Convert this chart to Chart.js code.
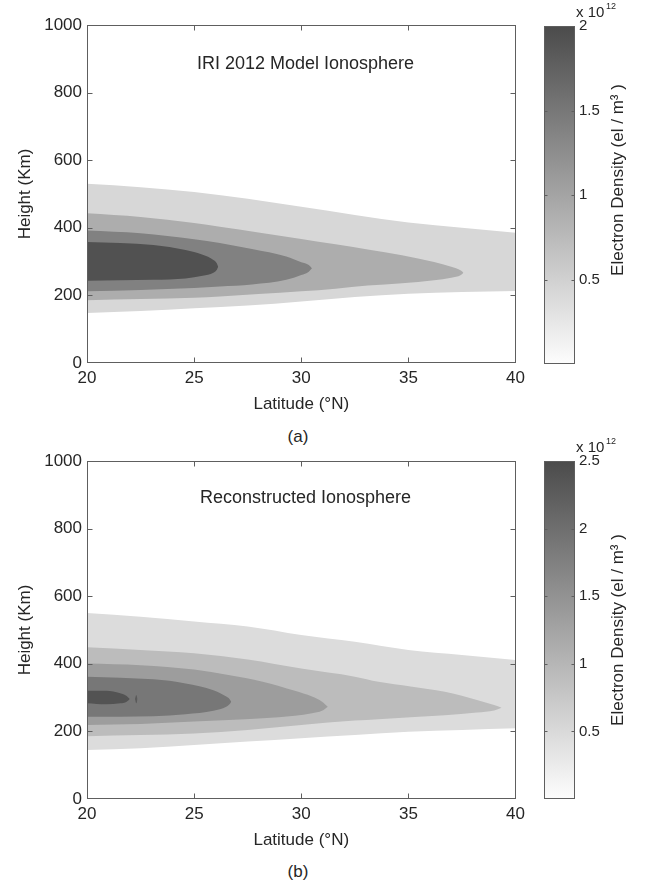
<!DOCTYPE html>
<html>
<head>
<meta charset="utf-8">
<title>Electron density: IRI 2012 and reconstructed ionosphere</title>
<script src="https://cdn.jsdelivr.net/npm/chart.js@4.4.1/dist/chart.umd.min.js"></script>
<style>
  body { margin: 0; background: #fff; font-family: "Liberation Sans", Arial, sans-serif; }
  #page { position: relative; width: 647px; height: 888px; overflow: hidden; }
  .slot { position: absolute; }
  .tag { position: absolute; width: 60px; text-align: center; font-size: 17px; color: #262626; }
</style>
</head>
<body>
<div id="page">
  <div class="slot" style="left:0;top:0"><canvas id="iriMap" width="530" height="420"></canvas></div>
  <div class="slot" style="left:530px;top:0"><canvas id="iriBar" width="117" height="420"></canvas></div>
  <div class="tag" style="left:268px;top:427px">(a)</div>
  <div class="slot" style="left:0;top:436px"><canvas id="recMap" width="530" height="420"></canvas></div>
  <div class="slot" style="left:530px;top:436px"><canvas id="recBar" width="117" height="420"></canvas></div>
  <div class="tag" style="left:268px;top:862px">(b)</div>
</div>

<script>
// Contour levels, lightest first. For each level: latitudes (°N) and the
// upper / lower edge height (km) of the filled region at those latitudes.

// (a) IRI 2012 model
const iriLat1 = [20, 22.5, 25, 27.5, 30, 32.5, 35, 37.5, 40];
const iriUpper1 = [530, 520, 506, 486, 462, 438, 416, 400, 385];
const iriLower1 = [148, 154, 162, 170, 182, 195, 205, 210, 213];

const iriLat2 = [20, 22.5, 25, 26.2, 28, 30, 31.6, 33.1, 34.7, 36.2, 37.0, 37.45, 37.57];
const iriUpper2 = [443, 432, 414, 403, 386, 367, 351, 336, 319, 299, 285, 274, 267];
const iriLower2 = [186, 189, 193, 197, 204, 212, 220, 229, 236, 245, 252, 260, 267];

const iriLat3 = [20, 22.5, 25, 26.2, 27.7, 29.3, 30.0, 30.35, 30.5];
const iriUpper3 = [392, 384, 366, 355, 337, 315, 298, 290, 280];
const iriLower3 = [212, 216, 222, 226, 232, 246, 260, 270, 280];

const iriLat4 = [20, 23.1, 24.6, 25.4, 25.9, 26.05, 26.12];
const iriUpper4 = [358, 349, 334, 320, 305, 296, 285];
const iriLower4 = [243, 246, 250, 258, 267, 275, 285];

// (b) reconstructed
const recLat1 = [20, 22.5, 25, 27.5, 30, 32.5, 35, 37.5, 40];
const recUpper1 = [550, 539, 525, 510, 485, 465, 441, 426, 411];
const recLower1 = [145, 150, 160, 170, 180, 189, 199, 204, 209];

const recLat2 = [20, 22.5, 25, 27.5, 30, 32.5, 33.6, 35.1, 36.7, 38.2, 39.0, 39.35];
const recUpper2 = [449, 441, 431, 413, 386, 362, 347, 333, 317, 293, 278, 270];
const recLower2 = [186, 189, 194, 204, 219, 232, 236, 242, 248, 256, 262, 270];

const recLat3 = [20, 22.5, 25, 26.6, 28.2, 29.7, 30.5, 30.97, 31.24];
const recUpper3 = [401, 396, 383, 367, 347, 320, 303, 288, 273];
const recLower3 = [219, 222, 229, 234, 239, 246, 254, 261, 273];

const recLat4 = [20, 23.1, 24.6, 25.9, 26.5, 26.65, 26.73];
const recUpper4 = [362, 354, 342, 322, 303, 296, 288];
const recLower4 = [243, 245, 251, 261, 273, 280, 288];

const recLat5 = [20, 20.9, 21.55, 21.85, 22.0];
const recUpper5 = [320, 320, 313, 305, 296];
const recLower5 = [283, 280, 283, 288, 296];

// small island of the top level just past the core
const recLat6 = [22.24, 22.3, 22.36];
const recUpper6 = [296, 308, 296];
const recLower6 = [296, 283, 296];

// colour bars (x 10^12 el/m^3)
const iriRange = [0, 2];
const iriTicks = [0.5, 1, 1.5, 2];
const recRange = [0, 2.5];
const recTicks = [0.5, 1, 1.5, 2, 2.5];

const FONT = '"Liberation Sans", Arial, sans-serif';
const INK = '#262626';
const EDGE = '#5e5e5e';

Chart.defaults.font.family = FONT;
Chart.defaults.color = INK;

const iriBands = [
    { lat: iriLat1, upper: iriUpper1, lower: iriLower1, color: '#d7d7d7' },
    { lat: iriLat2, upper: iriUpper2, lower: iriLower2, color: '#adadad' },
    { lat: iriLat3, upper: iriUpper3, lower: iriLower3, color: '#818181' },
    { lat: iriLat4, upper: iriUpper4, lower: iriLower4, color: '#515151' }
];

const recBands = [
    { lat: recLat1, upper: recUpper1, lower: recLower1, color: '#dcdcdc' },
    { lat: recLat2, upper: recUpper2, lower: recLower2, color: '#bcbcbc' },
    { lat: recLat3, upper: recUpper3, lower: recLower3, color: '#9d9d9d' },
    { lat: recLat4, upper: recUpper4, lower: recLower4, color: '#777777' },
    { lat: recLat5, upper: recUpper5, lower: recLower5, color: '#535353' },
    { lat: recLat6, upper: recUpper6, lower: recLower6, color: '#5a5a5a' }
];

// each level = lower edge + upper edge filled down to it
function bandSets(bands) {
    const sets = [];
    bands.forEach((band, i) => {
        const order = bands.length - i; // lighter levels sit underneath
        const common = {
            order,
            borderWidth: 0,
            borderColor: 'rgba(0,0,0,0)',
            pointRadius: 0,
            cubicInterpolationMode: 'monotone'
        };
        sets.push({
            ...common,
            data: band.lat.map((x, j) => ({ x, y: band.lower[j] })),
            fill: false
        });
        sets.push({
            ...common,
            data: band.lat.map((x, j) => ({ x, y: band.upper[j] })),
            fill: '-1',
            backgroundColor: band.color
        });
    });
    return sets;
}

// axes box, inward ticks and the in-plot caption
const framePlugin = {
    id: 'frame',
    afterDatasetsDraw(chart, args, opts) {
        const { ctx, chartArea: a, scales: { x, y } } = chart;
        const L = Math.round(a.left) + 0.5;
        const R = Math.round(a.right) - 0.5;
        const T = Math.round(a.top) + 0.5;
        const B = Math.round(a.bottom) - 0.5;

        ctx.save();
        ctx.strokeStyle = EDGE;
        ctx.lineWidth = 1;
        ctx.strokeRect(L, T, R - L, B - T);

        ctx.beginPath();
        x.ticks.forEach(t => {
            if (t.value === x.min || t.value === x.max) return;
            const px = Math.round(x.getPixelForValue(t.value)) + 0.5;
            ctx.moveTo(px, B); ctx.lineTo(px, B - 5);
            ctx.moveTo(px, T); ctx.lineTo(px, T + 5);
        });
        y.ticks.forEach(t => {
            if (t.value === y.min || t.value === y.max) return;
            const py = Math.round(y.getPixelForValue(t.value)) + 0.5;
            ctx.moveTo(L, py); ctx.lineTo(L + 5, py);
            ctx.moveTo(R, py); ctx.lineTo(R - 5, py);
        });
        ctx.stroke();

        ctx.fillStyle = INK;
        ctx.font = '18px ' + FONT;
        ctx.textAlign = 'center';
        ctx.textBaseline = 'middle';
        ctx.fillText(opts.text, x.getPixelForValue(opts.lat), y.getPixelForValue(opts.km));
        ctx.restore();
    }
};

function makeMap(id, bands, caption) {
    return new Chart(document.getElementById(id), {
        type: 'line',
        data: { datasets: bandSets(bands) },
        options: {
            responsive: false,
            animation: false,
            events: [],
            layout: { padding: { top: 25, right: 11, left: 0, bottom: 0 } },
            plugins: {
                legend: { display: false },
                tooltip: { enabled: false },
                frame: caption
            },
            scales: {
                x: {
                    type: 'linear',
                    min: 20,
                    max: 40,
                    ticks: { stepSize: 5, padding: 5, font: { size: 17 }, callback: v => String(v) },
                    grid: { display: false, drawTicks: false },
                    border: { display: false },
                    title: {
                        display: true,
                        text: 'Latitude (°N)',
                        font: { size: 17 },
                        padding: { top: 0, bottom: 5 }
                    },
                    afterFit: s => { s.height = 57; }
                },
                y: {
                    min: 0,
                    max: 1000,
                    ticks: { stepSize: 200, padding: 5, font: { size: 17 }, callback: v => String(v) },
                    grid: { display: false, drawTicks: false },
                    border: { display: false },
                    title: {
                        display: true,
                        text: 'Height (Km)',
                        font: { size: 17 },
                        padding: { top: 15, bottom: 0 }
                    },
                    afterFit: s => { s.width = 87; }
                }
            }
        },
        plugins: [framePlugin]
    });
}

// colour bar: box, inward ticks, rotated label and the x10^12 multiplier
const cbarPlugin = {
    id: 'cbar',
    afterDatasetsDraw(chart, args, opts) {
        const { ctx, chartArea: a, scales: { y } } = chart;
        const L = Math.round(a.left) + 0.5;
        const R = Math.round(a.right) - 0.5;
        const T = Math.round(a.top) + 0.5;
        const B = Math.round(a.bottom) - 0.5;

        ctx.save();
        ctx.strokeStyle = EDGE;
        ctx.lineWidth = 1;
        ctx.strokeRect(L, T, R - L, B - T);
        ctx.beginPath();
        y.ticks.forEach(t => {
            if (t.value === y.max) return;
            const py = Math.round(y.getPixelForValue(t.value)) + 0.5;
            ctx.moveTo(L, py); ctx.lineTo(L + 3, py);
            ctx.moveTo(R, py); ctx.lineTo(R - 3, py);
        });
        ctx.stroke();

        ctx.fillStyle = INK;
        ctx.textBaseline = 'alphabetic';
        ctx.textAlign = 'left';
        ctx.font = '15px ' + FONT;
        ctx.fillText('x 10', 46, a.top - 9);
        ctx.font = '9px ' + FONT;
        ctx.fillText('12', 76, a.top - 17);

        ctx.translate(88, opts.labelY);
        ctx.rotate(-Math.PI / 2);
        ctx.textAlign = 'center';
        ctx.textBaseline = 'middle';
        ctx.font = '17px ' + FONT;
        ctx.fillText('Electron Density (el / m³ )', 0, 0);
        ctx.restore();
    }
};

function makeBar(id, range, ticks, top, labelY) {
    return new Chart(document.getElementById(id), {
        type: 'bar',
        data: {
            labels: [''],
            datasets: [{
                data: [range],
                borderWidth: 0,
                barPercentage: 1,
                categoryPercentage: 1,
                backgroundColor: c => {
                    const area = c.chart.chartArea;
                    if (!area) return '#999';
                    const g = c.chart.ctx.createLinearGradient(0, area.bottom, 0, area.top);
                    g.addColorStop(0, '#fdfdfd');
                    g.addColorStop(1, '#4b4b4b');
                    return g;
                }
            }]
        },
        options: {
            responsive: false,
            animation: false,
            events: [],
            layout: { padding: { top, left: 14, right: 0, bottom: 420 - top - 338 } },
            plugins: {
                legend: { display: false },
                tooltip: { enabled: false },
                cbar: { labelY }
            },
            scales: {
                x: { display: false },
                y: {
                    position: 'right',
                    min: range[0],
                    max: range[1],
                    afterBuildTicks: s => { s.ticks = ticks.map(v => ({ value: v })); },
                    ticks: { padding: 4, font: { size: 15 }, callback: v => String(v) },
                    grid: { display: false, drawTicks: false },
                    border: { display: false },
                    afterFit: s => { s.width = 72; }
                }
            }
        },
        plugins: [cbarPlugin]
    });
}

makeMap('iriMap', iriBands, { text: 'IRI 2012 Model Ionosphere', lat: 30.2, km: 885 });
makeBar('iriBar', iriRange, iriTicks, 26, 180);
makeMap('recMap', recBands, { text: 'Reconstructed Ionosphere', lat: 30.2, km: 890 });
makeBar('recBar', recRange, recTicks, 25, 194);
</script>
</body>
</html>
